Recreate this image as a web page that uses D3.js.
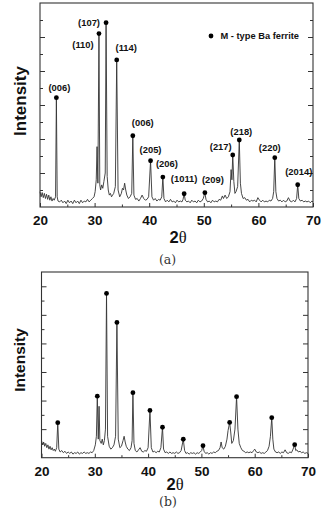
<!DOCTYPE html>
<html>
<head>
<meta charset="utf-8">
<script src="https://cdn.jsdelivr.net/npm/d3@7"></script>
<style>
  body { margin: 0; background: #fff; }
  svg { display: block; font-family: "Liberation Sans", Arial, sans-serif; }
</style>
</head>
<body>
<script>
const width = 324,
    height = 508;

// 2-theta axis labels
const angleTicks = [20, 30, 40, 50, 60, 70];

// pattern (a): [2theta, intensity]
const traceA = [
    [20.0,0.9],[20.2,0.6],[20.4,0.85],[20.6,0.55],[20.8,0.8],[21.0,0.5],[21.2,0.75],[21.4,0.45],
    [21.6,0.7],[21.8,0.4],[22.0,0.6],[22.2,0.35],[22.4,0.5],[22.6,0.4],[22.85,0.6],[23.0,6.43],
    [23.15,0.6],[23.3,0.35],[23.6,0.3],[23.9,0.4],[24.2,0.25],[24.5,0.35],[24.8,0.2],[25.1,0.4],
    [25.4,0.25],[25.7,0.35],[26.0,0.2],[26.3,0.4],[26.6,0.25],[26.9,0.35],[27.2,0.2],[27.5,0.4],
    [27.8,0.25],[28.1,0.35],[28.4,0.3],[28.7,0.45],[29.0,0.3],[29.3,0.4],[29.6,0.5],[29.9,0.6],
    [30.1,0.9],[30.3,1.6],[30.45,3.55],[30.6,1.4],[30.8,10.2],[30.95,1.3],[31.1,1.0],[31.3,1.3],
    [31.5,1.1],[31.7,1.5],[31.95,2.0],[32.1,10.84],[32.3,1.8],[32.5,1.0],[32.7,0.7],[32.9,0.8],
    [33.1,0.6],[33.3,0.7],[33.5,0.8],[33.8,1.2],[34.05,8.65],[34.3,1.0],[34.6,0.6],[34.9,0.8],
    [35.1,1.1],[35.3,1.0],[35.5,1.4],[35.7,1.0],[35.9,0.7],[36.2,0.5],[36.5,0.6],[36.8,0.8],
    [37.0,4.19],[37.2,0.7],[37.5,0.45],[37.8,0.5],[38.1,0.35],[38.4,0.5],[38.7,0.7],[39.0,0.5],
    [39.3,0.4],[39.6,0.45],[39.9,0.6],[40.25,2.72],[40.5,0.6],[40.8,0.4],[41.1,0.5],[41.4,0.35],
    [41.7,0.45],[42.0,0.4],[42.3,0.6],[42.5,1.76],[42.7,0.5],[43.0,0.3],[43.3,0.4],[43.6,0.3],
    [43.9,0.45],[44.2,0.3],[44.5,0.35],[44.8,0.25],[45.1,0.4],[45.4,0.3],[45.7,0.35],[46.0,0.3],
    [46.2,0.45],[46.4,0.78],[46.6,0.4],[46.9,0.3],[47.2,0.35],[47.5,0.25],[47.8,0.4],[48.1,0.3],
    [48.4,0.35],[48.7,0.25],[49.0,0.4],[49.3,0.3],[49.6,0.35],[49.9,0.5],[50.2,0.84],[50.4,0.45],
    [50.7,0.3],[51.0,0.35],[51.3,0.25],[51.6,0.4],[51.9,0.3],[52.2,0.35],[52.5,0.3],[52.8,0.45],
    [53.1,0.4],[53.4,0.65],[53.6,0.5],[53.9,0.7],[54.2,0.5],[54.5,0.6],[54.8,0.9],[55.0,2.2],
    [55.15,1.6],[55.3,3.06],[55.5,1.5],[55.7,0.8],[55.9,0.9],[56.2,1.2],[56.5,3.94],[56.7,1.4],
    [56.9,0.8],[57.2,0.5],[57.5,0.55],[57.8,0.4],[58.1,0.45],[58.4,0.3],[58.7,0.4],[59.0,0.35],
    [59.3,0.4],[59.6,0.3],[59.9,0.55],[60.2,0.4],[60.5,0.3],[60.8,0.4],[61.1,0.3],[61.4,0.35],
    [61.7,0.3],[62.0,0.4],[62.3,0.35],[62.6,0.5],[62.8,0.9],[63.0,2.9],[63.2,0.9],[63.4,0.5],
    [63.7,0.35],[64.0,0.4],[64.3,0.3],[64.6,0.4],[64.9,0.3],[65.2,0.35],[65.5,0.55],[65.8,0.35],
    [66.1,0.3],[66.4,0.4],[66.7,0.3],[67.0,0.5],[67.2,1.31],[67.4,0.5],[67.7,0.35],[68.0,0.4],
    [68.3,0.3],[68.6,0.35],[68.9,0.3],[69.2,0.35],[69.5,0.25],[69.8,0.35],[70.0,0.3]
];

// indexed peaks (a)
const peakAngleA = [23.0, 30.8, 32.1, 34.05, 37.0, 40.25, 42.5, 46.4, 50.2, 55.3, 56.5, 63.0, 67.2];
const peakIntA = [6.43, 10.2, 10.84, 8.65, 4.19, 2.72, 1.76, 0.78, 0.84, 3.06, 3.94, 2.9, 1.31];
const peakLabelsA = ['(006)', '(110)', '(107)', '(114)', '(006)', '(205)', '(206)',
    '(1011)', '(209)', '(217)', '(218)', '(220)', '(2014)'];

// pattern (b)
const traceB = [
    [20.0,1.2],[20.2,0.9],[20.4,1.1],[20.6,0.8],[20.8,1.0],[21.0,0.7],[21.2,0.9],[21.4,0.6],
    [21.6,0.8],[21.8,0.55],[22.0,0.7],[22.2,0.5],[22.4,0.6],[22.6,0.45],[22.85,0.7],[23.05,2.45],
    [23.25,0.6],[23.5,0.4],[23.8,0.5],[24.1,0.35],[24.4,0.45],[24.7,0.3],[25.0,0.4],[25.3,0.3],
    [25.6,0.4],[25.9,0.25],[26.2,0.35],[26.5,0.3],[26.8,0.4],[27.1,0.25],[27.4,0.35],[27.7,0.3],
    [28.0,0.4],[28.3,0.3],[28.6,0.35],[28.9,0.3],[29.2,0.4],[29.5,0.35],[29.8,0.5],[30.1,0.9],
    [30.3,1.5],[30.47,4.31],[30.65,1.3],[30.8,3.6],[30.95,1.2],[31.2,1.0],[31.4,1.3],[31.6,0.9],
    [31.8,1.2],[32.0,2.0],[32.2,11.5],[32.4,1.5],[32.7,0.8],[33.0,0.6],[33.3,0.7],[33.6,0.9],
    [33.9,1.5],[34.15,9.47],[34.4,1.3],[34.7,0.7],[35.0,0.8],[35.3,1.2],[35.5,1.5],[35.7,1.1],
    [35.9,0.8],[36.2,0.6],[36.5,0.5],[36.8,0.7],[37.0,1.2],[37.15,4.55],[37.35,1.0],[37.6,0.5],
    [37.9,0.4],[38.2,0.55],[38.5,0.7],[38.8,0.45],[39.1,0.4],[39.4,0.5],[39.7,0.45],[40.0,0.7],
    [40.35,3.31],[40.6,0.7],[40.9,0.4],[41.2,0.45],[41.5,0.35],[41.8,0.45],[42.1,0.4],[42.4,0.7],
    [42.7,2.13],[42.9,0.6],[43.2,0.35],[43.5,0.4],[43.8,0.3],[44.1,0.4],[44.4,0.3],[44.7,0.35],
    [45.0,0.3],[45.3,0.4],[45.6,0.3],[45.9,0.35],[46.2,0.5],[46.6,1.29],[46.85,0.5],[47.1,0.3],
    [47.4,0.35],[47.7,0.25],[48.0,0.35],[48.3,0.3],[48.6,0.35],[48.9,0.25],[49.2,0.35],[49.5,0.3],
    [49.8,0.4],[50.05,0.5],[50.3,0.84],[50.5,0.45],[50.8,0.3],[51.1,0.35],[51.4,0.25],[51.7,0.35],
    [52.0,0.3],[52.3,0.4],[52.6,0.35],[52.9,0.45],[53.2,0.5],[53.5,0.7],[53.7,1.1],[53.9,0.7],
    [54.2,0.6],[54.5,0.8],[54.8,1.3],[55.0,1.9],[55.3,2.47],[55.5,1.8],[55.7,1.0],[56.0,1.2],
    [56.3,2.0],[56.6,4.27],[56.85,2.0],[57.1,1.0],[57.4,0.7],[57.7,0.5],[58.0,0.45],[58.3,0.35],
    [58.6,0.4],[58.9,0.35],[59.2,0.4],[59.5,0.35],[59.8,0.5],[60.0,0.6],[60.3,0.4],[60.6,0.35],
    [60.9,0.4],[61.2,0.3],[61.5,0.35],[61.8,0.3],[62.1,0.4],[62.4,0.5],[62.7,0.8],[62.95,1.5],
    [63.2,2.8],[63.4,1.3],[63.6,0.6],[63.9,0.4],[64.2,0.35],[64.5,0.4],[64.8,0.3],[65.1,0.4],
    [65.4,0.35],[65.7,0.55],[66.0,0.35],[66.3,0.3],[66.6,0.4],[66.9,0.35],[67.2,0.6],[67.5,0.91],
    [67.7,0.5],[67.9,0.55],[68.2,0.4],[68.5,0.45],[68.8,0.35],[69.1,0.4],[69.4,0.3],[69.7,0.35],
    [70.0,0.3]
];

const peakAngleB = [23.05, 30.47, 32.2, 34.15, 37.15, 40.35, 42.7, 46.6, 50.3, 55.3, 56.6, 63.2, 67.5];
const peakIntB = [2.45, 4.31, 11.5, 9.47, 4.55, 3.31, 2.13, 1.29, 0.84, 2.47, 4.27, 2.8, 0.91];

const legendText = 'M - type Ba ferrite';

// label offsets from each dot, in px
const labelOffsetA = [
    [3, -10], [-16, 11], [-17, 0], [9.5, -12], [10, -13], [0, -11.5], [4, -14],
    [0, -15], [8, -13], [-12, -8], [2, -8.5], [-5, -10], [1, -13]
];

const svg = d3.select('body').append('svg')
    .attr('width', width)
    .attr('height', height);

function drawPanel(p) {
    const x = d3.scaleLinear().domain([20, 70]).range([p.left, p.right]);
    const y = d3.scaleLinear().domain([0, p.yMax]).range([p.bottom, p.top]);
    const g = svg.append('g');

    // bottom ticks, inward
    const xAxis = d3.axisBottom(x)
        .tickValues(d3.range(20, 71, 5))
        .tickSize(-4)
        .tickPadding(p.tickPad)
        .tickFormat(d => angleTicks.includes(d) ? d : '');
    const gx = g.append('g')
        .attr('transform', 'translate(0,' + p.bottom + ')')
        .call(xAxis);
    gx.select('.domain').remove();
    gx.selectAll('.tick line')
        .attr('y2', d => d % 10 === 0 ? -4 : -2.5)
        .attr('stroke', '#333');
    gx.selectAll('.tick text')
        .attr('fill', '#111')
        .style('font-size', '13.5px')
        .style('font-weight', 'bold');

    // left / right ticks, inward, major on even
    const yVals = d3.range(1, p.yMax);
    [[d3.axisLeft(y), p.left, 1], [d3.axisRight(y), p.right, -1]].forEach(([ax, pos, k]) => {
        const gy = g.append('g')
            .attr('transform', 'translate(' + pos + ',0)')
            .call(ax.tickValues(yVals).tickSize(-5).tickFormat(''));
        gy.select('.domain').remove();
        gy.selectAll('.tick line')
            .attr('x2', d => k * (d % 2 === 0 ? 5 : 3))
            .attr('stroke', '#333');
    });

    // frame
    g.append('rect')
        .attr('x', p.left)
        .attr('y', p.top)
        .attr('width', p.right - p.left)
        .attr('height', p.bottom - p.top)
        .attr('fill', 'none')
        .attr('stroke', '#333')
        .attr('stroke-width', 1.1);

    const line = d3.line()
        .x(d => x(d[0]))
        .y(d => y(d[1]));

    g.append('path')
        .datum(p.trace)
        .attr('d', line)
        .attr('fill', 'none')
        .attr('stroke', '#333')
        .attr('stroke-width', 0.9)
        .attr('stroke-linejoin', 'round');

    g.append('g').selectAll('circle')
        .data(p.angles)
        .enter()
        .append('circle')
        .attr('cx', d => x(d))
        .attr('cy', (d, i) => y(p.ints[i]))
        .attr('r', 2.4)
        .attr('fill', '#000');

    if (p.labels) {
        g.append('g').selectAll('text')
            .data(p.labels)
            .enter()
            .append('text')
            .attr('x', (d, i) => x(p.angles[i]) + p.offsets[i][0])
            .attr('y', (d, i) => y(p.ints[i]) + p.offsets[i][1])
            .attr('text-anchor', 'middle')
            .attr('dominant-baseline', 'central')
            .style('font-size', '9.4px')
            .style('font-weight', 'bold')
            .attr('fill', '#111')
            .text(d => d);
    }

    // axis titles
    g.append('text')
        .attr('transform', 'translate(' + p.yTitleX + ',' + p.yTitleY + ') rotate(-90)')
        .attr('text-anchor', 'middle')
        .style('font-size', p.yTitleSize + 'px')
        .style('font-weight', 'bold')
        .attr('fill', '#111')
        .text('Intensity');

    const t = g.append('text')
        .attr('x', p.xTitleX)
        .attr('y', p.xTitleY)
        .attr('text-anchor', 'middle')
        .attr('dominant-baseline', 'central')
        .style('font-size', '16.5px')
        .style('font-weight', 'bold')
        .attr('fill', '#111');
    t.append('tspan').text('2');
    t.append('tspan')
        .style('font-family', '"Liberation Serif", serif')
        .style('font-weight', 'normal')
        .text('θ');

    svg.append('text')
        .attr('x', p.letterX)
        .attr('y', p.letterY)
        .attr('text-anchor', 'middle')
        .attr('dominant-baseline', 'central')
        .style('font-family', '"DejaVu Serif", serif')
        .style('font-size', '12.5px')
        .attr('fill', '#333')
        .text(p.letter);

    return g;
}

const gA = drawPanel({
    left: 40, right: 313, top: 3, bottom: 207, yMax: 12, tickPad: 8.5,
    trace: traceA, angles: peakAngleA, ints: peakIntA,
    labels: peakLabelsA, offsets: labelOffsetA,
    yTitleX: 26, yTitleY: 101, yTitleSize: 17,
    xTitleX: 178, xTitleY: 237,
    letter: '(a)', letterX: 167.5, letterY: 259
});

// legend in panel (a)
gA.append('circle')
    .attr('cx', 211)
    .attr('cy', 36)
    .attr('r', 2.4)
    .attr('fill', '#000');
gA.append('text')
    .attr('x', 220.5)
    .attr('y', 36)
    .attr('dominant-baseline', 'central')
    .style('font-size', '9.3px')
    .style('font-weight', 'bold')
    .attr('fill', '#111')
    .text(legendText);

drawPanel({
    left: 41.5, right: 308, top: 272, bottom: 457.7, yMax: 13, tickPad: 9.2,
    trace: traceB, angles: peakAngleB, ints: peakIntB,
    labels: null,
    yTitleX: 25, yTitleY: 360, yTitleSize: 15.5,
    xTitleX: 175, xTitleY: 483.5,
    letter: '(b)', letterX: 168, letterY: 501
});
</script>
</body>
</html>
